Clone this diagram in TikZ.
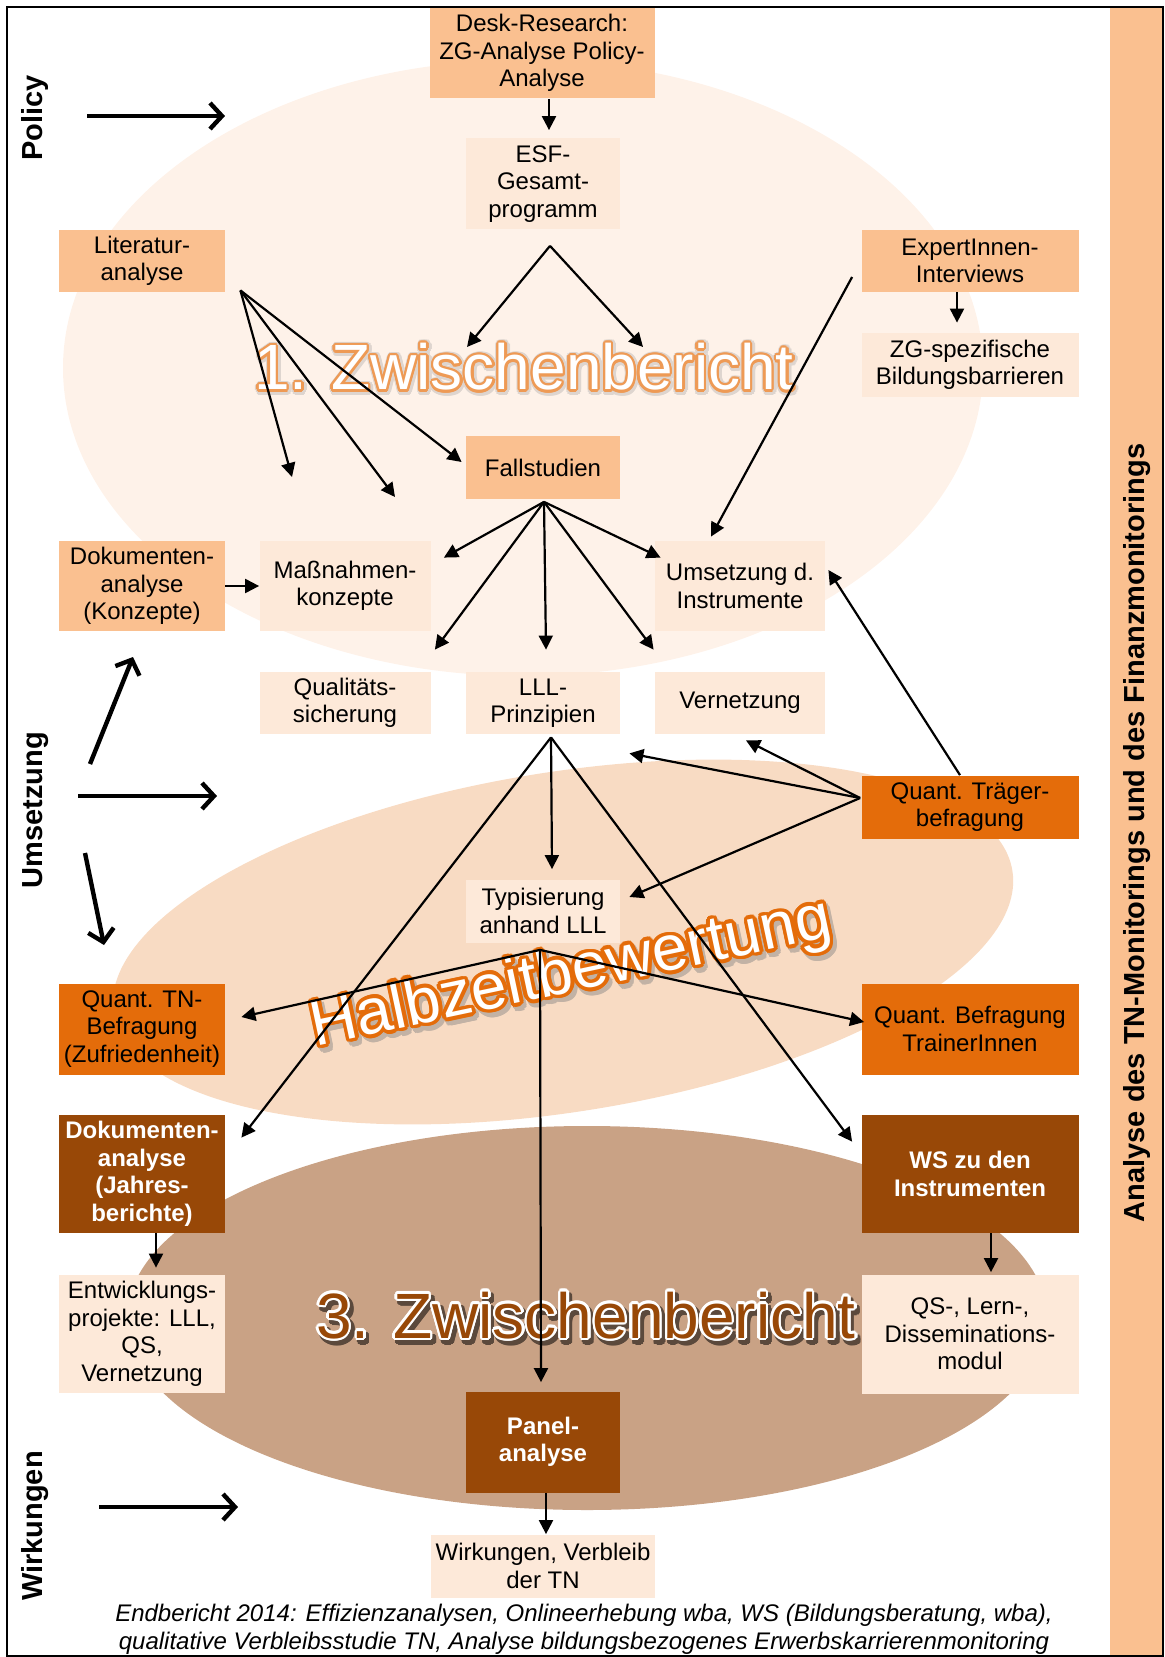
\documentclass[tikz,border=0pt]{standalone}
\usepackage{fontspec}
\setmainfont{Liberation Sans}
\usepackage{contour}
\usetikzlibrary{calc,arrows.meta}

\definecolor{ellA}{HTML}{FEF2E9}
\definecolor{ellB}{HTML}{F8DBC3}
\definecolor{ellC}{HTML}{C9A285}
\definecolor{boxlight}{HTML}{FAC090}
\definecolor{boxpale}{HTML}{FDE9D9}
\definecolor{boxorange}{HTML}{E46C0A}
\definecolor{boxbrown}{HTML}{984807}
\definecolor{lineorange}{HTML}{EE9A55}

\tikzset{
	box/.style={inner sep=0pt, align=center, font=\fontsize{12}{13.75}\selectfont, text=black},
	lightbox/.style={box, fill=boxlight},
	palebox/.style={box, fill=boxpale},
	orangebox/.style={box, fill=boxorange},
	brownbox/.style={box, fill=boxbrown, text=white, font=\bfseries\fontsize{12}{13.75}\selectfont},
	arr/.style={line width=1.1pt, -{Triangle[length=7pt,width=7pt]}},
	bigarr/.style={line width=2.2pt, -{Straight Barb[length=6pt,width=13pt]}},
	sidelabel/.style={rotate=90, font=\bfseries\fontsize{14.5}{17}\selectfont},
	bigtitle/.style={font=\fontsize{32}{36}\selectfont, inner sep=0pt, anchor=base},
}

\begin{document}
\begin{tikzpicture}[x=0.5pt, y=-0.5pt]
			%%%%% START %%%%%
			\useasboundingbox (0,0) rectangle (1165,1657);
			
			\fill[ellA] (523,368) ellipse [x radius=460, y radius=308];
			\fill[ellB, rotate around={9:(563,942)}] (563,942) ellipse [x radius=455, y radius=170];
			\fill[ellC] (587,1318) ellipse [x radius=460, y radius=192];
			
			\fill[boxlight] (1110,7) rectangle (1162,1656);
			\draw[line width=1pt] (7,7) rectangle (1163,1656);
			\node[sidelabel] (monitoring) at (1137,833) {Analyse des TN-Monitorings und des Finanzmonitorings};
			
			\node[sidelabel] (policy) at (35,118) {Policy};
			\node[sidelabel] (umsetzung) at (36,810) {Umsetzung};
			\node[sidelabel] (wirkungen) at (35,1526) {Wirkungen};
			
			%%%%% TITLES %%%%%
			\node[bigtitle, text=ellA!75!gray] at (525,391) {\contourlength{2.2pt}\contour{ellA!75!gray}{1. Zwischenbericht}};
			\node[bigtitle, text=white] (zb1) at (524,390) {\contourlength{1.2pt}\contour{lineorange}{1. Zwischenbericht}};
			
			\node[bigtitle, rotate=12, text=ellB!55!gray] at (578,995) {\contourlength{2pt}\contour{ellB!55!gray}{Halbzeitbewertung}};
			\node[bigtitle, rotate=12, text=white] (hzb) at (575,991) {\contourlength{1.8pt}\contour{boxorange}{Halbzeitbewertung}};
			
			\node[bigtitle, text=ellC!45!black] at (589,1342) {\contourlength{1.5pt}\contour{ellC!45!black}{3. Zwischenbericht}};
			\node[bigtitle, text=boxbrown] (zb3) at (586,1338) {\contourlength{1.2pt}\contour{white}{3. Zwischenbericht}};
			
			%%%%% BOXES %%%%%
			\node[lightbox, minimum width=112.5pt, minimum height=45pt] (desk) at (542,53) {Desk-Research:\\ZG-Analyse Policy-\\Analyse};
			\node[palebox, minimum width=77pt, minimum height=45.5pt] (esf) at (543,184) {ESF-\\Gesamt-\\programm};
			\node[lightbox, minimum width=83pt, minimum height=31pt] (lit) at (142,261) {Literatur-\\analyse};
			\node[lightbox, minimum width=108.5pt, minimum height=31pt] (expert) at (970,261) {ExpertInnen-\\Interviews};
			\node[palebox, minimum width=108.5pt, minimum height=32pt] (zgbar) at (970,365) {ZG-spezifische\\Bildungsbarrieren};
			\node[lightbox, minimum width=77pt, minimum height=31.5pt] (fall) at (543,468) {Fallstudien};
			
			\node[lightbox, minimum width=83pt, minimum height=45pt] (dokk) at (142,586) {Dokumenten-\\analyse\\(Konzepte)};
			\node[palebox, minimum width=85.5pt, minimum height=45pt] (mass) at (345,586) {Maßnahmen-\\konzepte};
			\node[palebox, minimum width=85pt, minimum height=45pt] (umsi) at (740,586) {Umsetzung d.\\Instrumente};
			\node[palebox, minimum width=85.5pt, minimum height=31pt] (quali) at (345,703) {Qualitäts-\\sicherung};
			\node[palebox, minimum width=77pt, minimum height=31pt] (lll) at (543,703) {LLL-\\Prinzipien};
			\node[palebox, minimum width=85pt, minimum height=31pt] (vern) at (740,703) {Vernetzung};
			\node[orangebox, minimum width=108.5pt, minimum height=31.5pt] (traeger) at (970,807) {Quant. Träger-\\befragung};
			
			\node[palebox, minimum width=77pt, minimum height=31.5pt] (typ) at (543,911) {Typisierung\\anhand LLL};
			\node[orangebox, minimum width=83pt, minimum height=45.5pt] (tnbef) at (142,1029) {Quant. TN-\\Befragung\\(Zufriedenheit)};
			\node[orangebox, minimum width=108.5pt, minimum height=45.5pt] (trainer) at (970,1029) {Quant. Befragung\\TrainerInnen};
			\node[brownbox, minimum width=83pt, minimum height=59pt] (dokj) at (142,1174) {Dokumenten-\\analyse\\(Jahres-\\berichte)};
			\node[brownbox, minimum width=108.5pt, minimum height=59pt] (ws) at (970,1174) {WS zu den\\Instrumenten};
			\node[palebox, minimum width=83pt, minimum height=59pt] (entw) at (142,1334) {Entwicklungs-\\projekte: LLL,\\QS,\\Vernetzung};
			\node[palebox, minimum width=108.5pt, minimum height=59.5pt] (qslern) at (970,1334) {QS-, Lern-,\\Disseminations-\\modul};
			\node[brownbox, minimum width=77pt, minimum height=50.5pt] (panel) at (543,1442) {Panel-\\analyse};
			\node[palebox, minimum width=112pt, minimum height=31.5pt] (wirk) at (543,1566) {Wirkungen, Verbleib\\der TN};
			
			\node[font=\itshape\fontsize{12}{14}\selectfont, align=center] (footer) at (584,1629) {Endbericht 2014: Effizienzanalysen, Onlineerhebung wba, WS (Bildungsberatung, wba),\\qualitative Verbleibsstudie TN, Analyse bildungsbezogenes Erwerbskarrierenmonitoring};
			
			%%%%% BIG ARROWS %%%%%
			\coordinate (pol-a) at (87,116);
			\coordinate (pol-b) at (225,116);
			\coordinate (ums-a) at (90,764);
			\coordinate (ums-b) at (133,657);
			\coordinate (ums-c) at (78,796);
			\coordinate (ums-d) at (217,796);
			\coordinate (ums-e) at (85,853);
			\coordinate (ums-f) at (104,945);
			\coordinate (wir-a) at (99,1507);
			\coordinate (wir-b) at (238,1507);
			\draw[bigarr] (pol-a) -- (pol-b);
			\draw[bigarr] (ums-a) -- (ums-b);
			\draw[bigarr] (ums-c) -- (ums-d);
			\draw[bigarr] (ums-e) -- (ums-f);
			\draw[bigarr] (wir-a) -- (wir-b);
			
			%%%%% CONNECTORS %%%%%
			\draw[arr] ($(desk.south)+(7,1)$) -- ($(esf.north)+(6,-8)$);
			\draw[arr] ($(expert.south)+(-13,0)$) -- ($(zgbar.north)+(-13,-10)$);
			\draw[arr] (dokk.east) -- (mass.west);
			\draw[arr] ($(dokj.south)+(14,0)$) -- ($(entw.north)+(14,-7)$);
			\draw[arr] ($(ws.south)+(21,0)$) -- ($(qslern.north)+(21,-2)$);
			\draw[arr] ($(panel.south)+(3,0)$) -- ($(wirk.north)+(3,0)$);
			
			\coordinate (esf-fan) at ($(esf.south)+(7,16)$);
			\draw[arr] (esf-fan) -- (467,347);
			\draw[arr] (esf-fan) -- (643,347);
			
			\coordinate (lit-fan) at ($(lit.south east)+(15,-2)$);
			\draw[arr] (lit-fan) -- (292,477);
			\draw[arr] (lit-fan) -- (395,497);
			\draw[arr] (lit-fan) -- ($(fall.west)+(-4,-6)$);
			
			\draw[arr] ($(expert.west)+(-9,16)$) -- ($(umsi.north)+(-29,-4)$);
			
			\coordinate (fall-fan) at ($(fall.south)+(1,2)$);
			\draw[arr] (fall-fan) -- ($(mass.north east)+(13,17)$);
			\draw[arr] (fall-fan) -- ($(quali.north east)+(4,-22)$);
			\draw[arr] (fall-fan) -- ($(lll.north)+(3,-22)$);
			\draw[arr] (fall-fan) -- ($(vern.north west)+(-1,-22)$);
			\draw[arr] (fall-fan) -- ($(umsi.north west)+(6,17)$);
			
			\coordinate (tr-fan) at ($(traeger.west)+(-1,-9)$);
			\draw[arr] (tr-fan) -- ($(vern.south)+(6,6)$);
			\draw[arr] (tr-fan) -- ($(lll.south east)+(9,19)$);
			\draw[arr] (tr-fan) -- ($(typ.east)+(9,-14)$);
			\draw[arr] ($(traeger.north)+(-10,0)$) -- ($(umsi.east)+(3,-16)$);
			
			\coordinate (lll-fan) at ($(lll.south)+(8,3)$);
			\draw[arr] (lll-fan) -- ($(typ.north)+(9,-10)$);
			\draw[arr] (lll-fan) -- ($(dokj.north east)+(16,23)$);
			\draw[arr] (lll-fan) -- ($(ws.north west)+(-9,27)$);
			
			\coordinate (typ-fan) at ($(typ.south)+(-3,7)$);
			\draw[arr] (typ-fan) -- ($(tnbef.east)+(16,-12)$);
			\draw[arr] (typ-fan) -- ($(trainer.west)+(3,-7)$);
			\draw[arr] (typ-fan) -- ($(panel.north)+(-2,-9)$);
			
			%%%%% END %%%%%
		\end{tikzpicture}
\end{document}
